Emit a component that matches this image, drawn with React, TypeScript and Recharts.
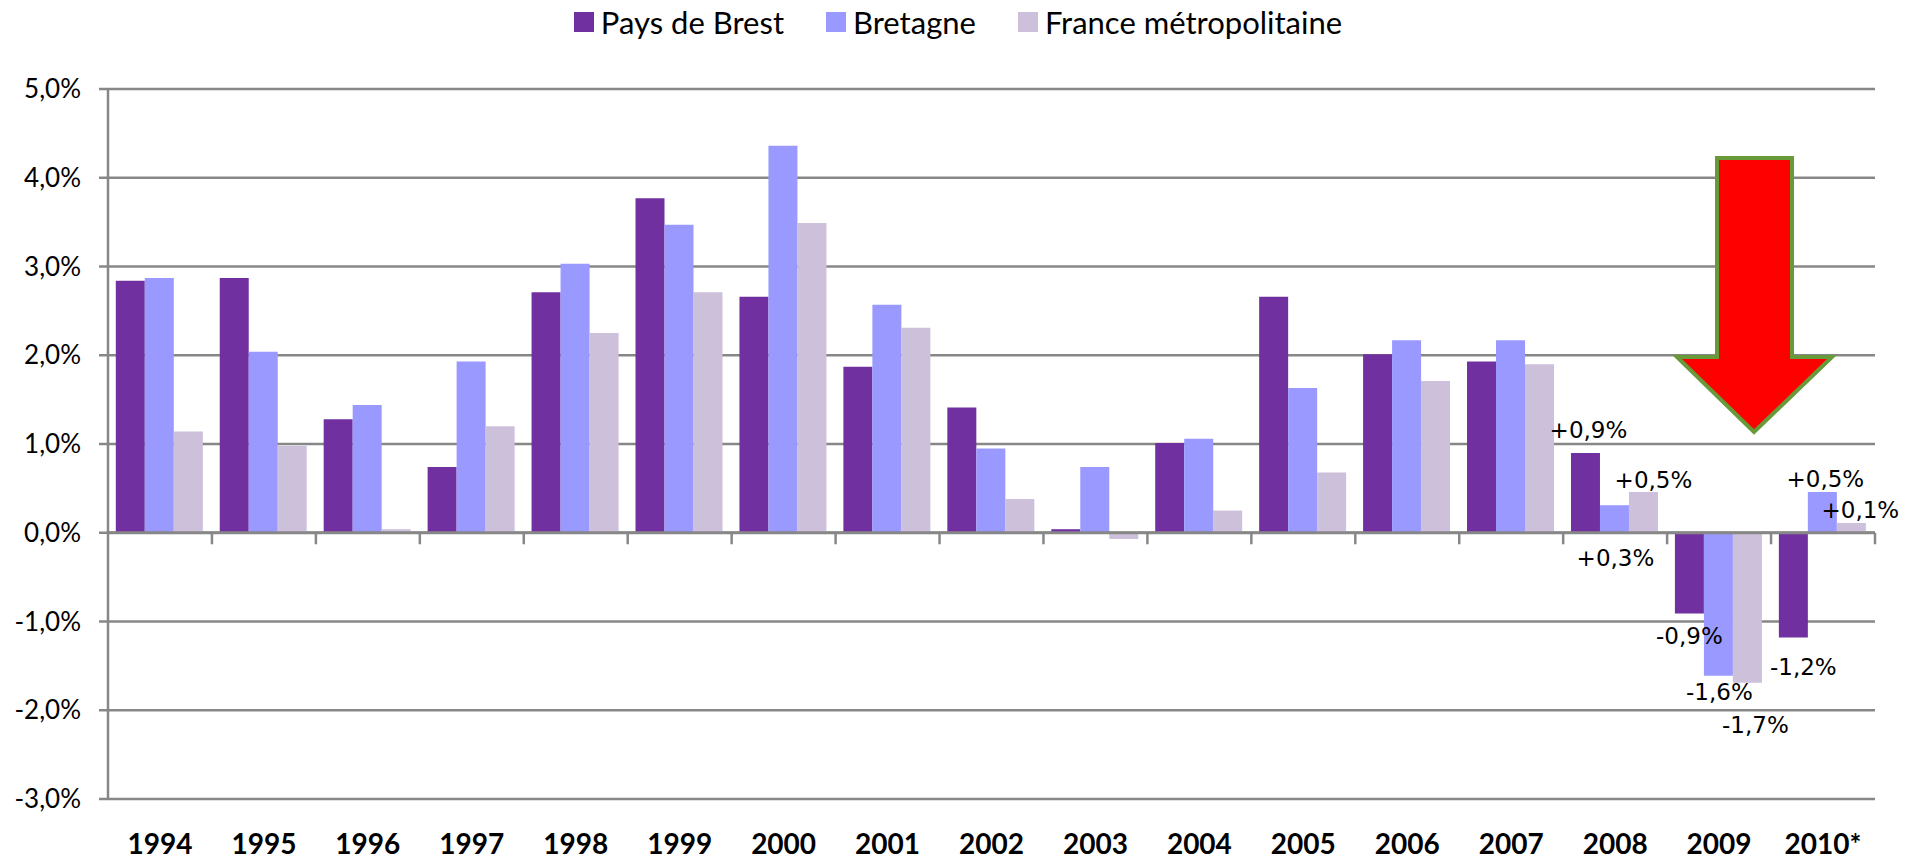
import React from 'react';
import { BarChart, Bar, XAxis, YAxis, CartesianGrid, ReferenceLine, LabelList } from 'recharts';

const years = ['1994', '1995', '1996', '1997', '1998', '1999', '2000', '2001', '2002', '2003', '2004', '2005', '2006', '2007', '2008', '2009', '2010*'];
const brest = [2.84, 2.87, 1.28, 0.74, 2.71, 3.77, 2.66, 1.87, 1.41, 0.04, 1.01, 2.66, 2.01, 1.93, 0.9, -0.91, -1.18];
const bretagne = [2.87, 2.04, 1.44, 1.93, 3.03, 3.47, 4.36, 2.57, 0.95, 0.74, 1.06, 1.63, 2.17, 2.17, 0.31, -1.61, 0.46];
const france = [1.14, 0.98, 0.04, 1.2, 2.25, 2.71, 3.49, 2.31, 0.38, -0.07, 0.25, 0.68, 1.71, 1.9, 0.46, -1.69, 0.11];
const yTicks = [-3, -2, -1, 0, 1, 2, 3, 4, 5];

const series = [
  { key: 'brest', name: 'Pays de Brest', color: '#7030A0', values: brest },
  { key: 'bretagne', name: 'Bretagne', color: '#9999FF', values: bretagne },
  { key: 'france', name: 'France métropolitaine', color: '#CCC0DA', values: france },
];

// where the labels sit (index -> [dx from bar centre, dy from bar end])
const labelPos: Record<string, Record<number, [number, number]>> = {
  brest: { 14: [3, -23], 15: [0, 22], 16: [10, 29] },
  bretagne: { 14: [1, 53], 15: [1, 16], 16: [3, -13] },
  france: { 14: [10, -12], 15: [8, 42], 16: [9, -13] },
};

const data = years.map((year, i) => ({
  year,
  brest: brest[i],
  bretagne: bretagne[i],
  france: france[i],
}));

const GRAY = '#878787';

const fmtPct = (v: number) => `${v.toFixed(1).replace('.', ',')}%`;
const fmtLabel = (v: number) => `${v > 0 ? '+' : v < 0 ? '-' : ''}${Math.abs(v).toFixed(1).replace('.', ',')}%`;

const makeLabel = (key: string, values: number[]) => (props: any) => {
  const idx = props.index;
  const pos = labelPos[key][idx];
  if (!pos) return null;
  const vb = props.viewBox || props;
  const x = Number(vb.x);
  const y = Number(vb.y);
  const w = Number(vb.width);
  const h = Number(vb.height);
  const v = values[idx];
  const top = Math.min(y, y + h);
  const bottom = Math.max(y, y + h);
  const edge = v >= 0 ? top : bottom;
  return (
    <text
      x={x + w / 2 + pos[0]}
      y={edge + pos[1]}
      dy="0.35em"
      textAnchor="middle"
      fontFamily="'DejaVu Sans', sans-serif"
      fontSize={23}
      fill="#000"
    >
      {fmtLabel(v)}
    </text>
  );
};

const App = () => {
  return (
    <div style={{ position: 'absolute', left: 0, top: 0, width: 1916, height: 860, background: '#fff' }}>
      <div
        style={{
          position: 'absolute',
          top: 4,
          left: 0,
          width: 1916,
          height: 36,
          display: 'flex',
          justifyContent: 'center',
          alignItems: 'center',
          gap: 42,
          fontFamily: 'Lato, sans-serif',
          fontSize: 31,
          lineHeight: '36px',
          color: '#000',
        }}
      >
        {series.map((s) => (
          <div key={s.key} style={{ display: 'flex', alignItems: 'center' }}>
            <span style={{ display: 'inline-block', width: 20, height: 20, background: s.color, marginRight: 7 }} />
            <span>{s.name}</span>
          </div>
        ))}
      </div>

      <BarChart
        width={1916}
        height={860}
        data={data}
        margin={{ top: 89, right: 41, bottom: 0, left: 0 }}
        barCategoryGap="7.5%"
        barGap={0}
      >
        <CartesianGrid vertical={false} stroke={GRAY} strokeWidth={2.5} />
        <XAxis
          dataKey="year"
          height={61}
          axisLine={false}
          tickLine={false}
          tickSize={0}
          tickMargin={35}
          interval={0}
          tick={{ fontFamily: 'Lato, sans-serif', fontSize: 28, fontWeight: 700, fill: '#000' }}
        />
        <YAxis
          width={108}
          domain={[-3, 5]}
          ticks={yTicks}
          interval={0}
          tickFormatter={fmtPct}
          axisLine={{ stroke: GRAY, strokeWidth: 2.5 }}
          tickLine={{ stroke: GRAY, strokeWidth: 2.5 }}
          tickSize={9}
          tickMargin={18}
          tick={{ fontFamily: 'Lato, sans-serif', fontSize: 26, fill: '#000' }}
        />
        {series.map((s) => (
          <Bar key={s.key} dataKey={s.key} name={s.name} fill={s.color} isAnimationActive={false}>
            <LabelList dataKey={s.key} content={makeLabel(s.key, s.values)} />
          </Bar>
        ))}
        <ReferenceLine y={0} stroke={GRAY} strokeWidth={3} />
        {years.slice(1).map((yr) => (
          <ReferenceLine
            key={`tick-${yr}`}
            segment={[{ x: yr, y: 0 }, { x: yr, y: -0.13 }]}
            position="start"
            stroke={GRAY}
            strokeWidth={2.5}
          />
        ))}
        <ReferenceLine
          segment={[{ x: years[years.length - 1], y: 0 }, { x: years[years.length - 1], y: -0.13 }]}
          position="end"
          stroke={GRAY}
          strokeWidth={2.5}
        />
      </BarChart>

      <svg
        width={1916}
        height={860}
        style={{ position: 'absolute', left: 0, top: 0, pointerEvents: 'none' }}
      >
        <polygon
          points="1717,158 1792,158 1792,357 1832,357 1754,432 1677,357 1717,357"
          fill="#FF0000"
          stroke="#689A3A"
          strokeWidth={4}
        />
      </svg>
    </div>
  );
};

export default App;
